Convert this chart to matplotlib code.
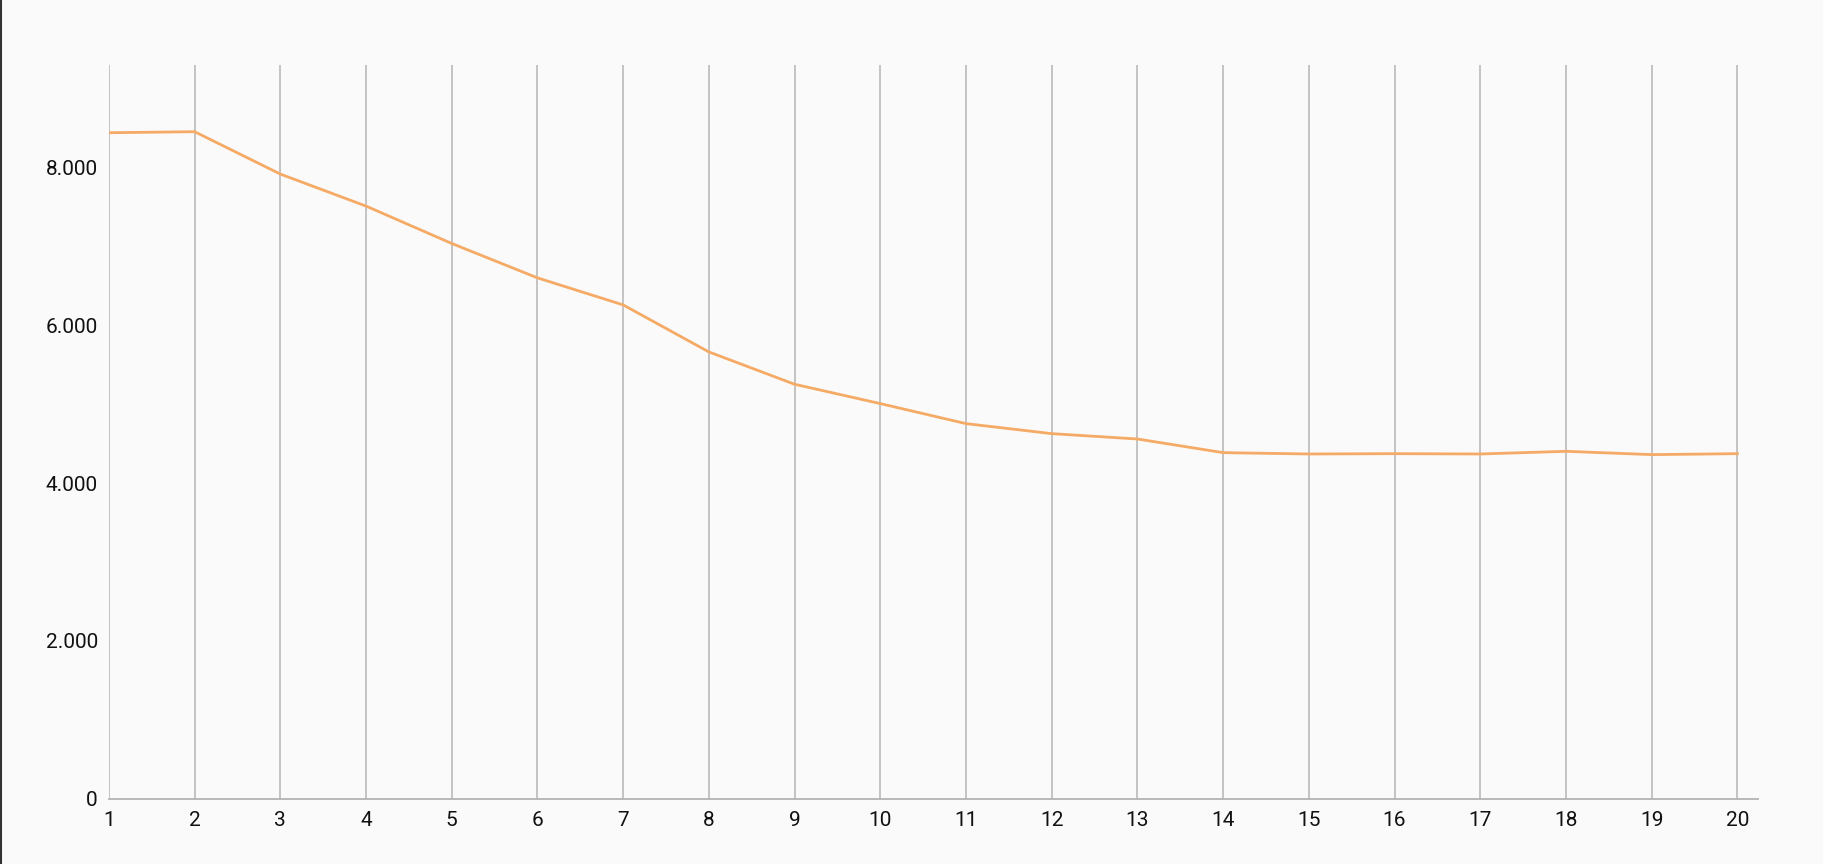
import matplotlib
matplotlib.use("Agg")
import matplotlib.pyplot as plt
from matplotlib.ticker import FuncFormatter
from matplotlib.lines import Line2D

x_values = list(range(1, 21))
y_values = [8443, 8456, 7919, 7513, 7039, 6603, 6260, 5664, 5254, 5009,
            4755, 4628, 4560, 4387, 4370, 4374, 4370, 4404, 4362, 4374]
y_ticks = [0, 2000, 4000, 6000, 8000]

plt.rcParams['font.family'] = ['Roboto', 'DejaVu Sans']

fig = plt.figure(figsize=(18.24, 8.64), dpi=100, facecolor='#fafafa')
ax = fig.add_axes([0.0597, 0.0756, 0.9041, 0.8492])
ax.set_facecolor('#fafafa')

ax.plot(x_values, y_values, color='#f5aa65', lw=2.0, solid_joinstyle='round', zorder=3)

ax.set_xlim(1, 20.24)
ax.set_ylim(0, 9302)
ax.set_xticks(x_values)
ax.set_yticks(y_ticks)
ax.yaxis.set_major_formatter(FuncFormatter(lambda v, p: f"{int(v):,}".replace(",", ".")))

ax.grid(axis='x', color='#b4b4b4', lw=1.1)
ax.grid(axis='y', visible=False)
ax.set_axisbelow(True)

for s in ['top', 'right', 'left']:
    ax.spines[s].set_visible(False)
ax.spines['bottom'].set_color('#b4b4b4')
ax.spines['bottom'].set_linewidth(1.3)

ax.tick_params(axis='x', length=0, pad=9, labelsize=15, colors='#111111')
ax.tick_params(axis='y', length=0, pad=8, labelsize=15, colors='#111111')

fig.add_artist(Line2D([0.0006, 0.0006], [0, 1], transform=fig.transFigure, color='#333333', lw=1.5))

fig.savefig('out.png', dpi=100, facecolor=fig.get_facecolor())
